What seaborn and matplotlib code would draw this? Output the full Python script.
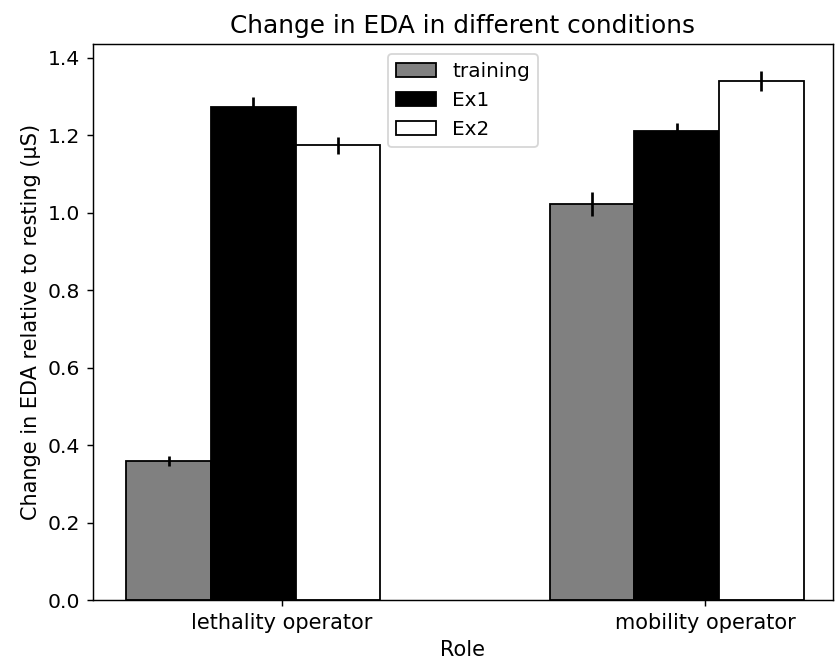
import matplotlib
matplotlib.use("Agg")
import matplotlib.pyplot as plt
import seaborn as sns
import pandas as pd
import numpy as np

roles = ["lethality operator", "mobility operator"]
conditions = ["training", "Ex1", "Ex2"]
training_vals = [0.358, 1.023]
ex1_vals = [1.273, 1.211]
ex2_vals = [1.174, 1.341]
training_err = [0.013, 0.031]
ex1_err = [0.026, 0.022]
ex2_err = [0.023, 0.026]

rows = []
for cond, vals, errs in [("training", training_vals, training_err),
                         ("Ex1", ex1_vals, ex1_err),
                         ("Ex2", ex2_vals, ex2_err)]:
    for r, v, e in zip(roles, vals, errs):
        rows.append({"Role": r, "Condition": cond, "Value": v, "Err": e})
df = pd.DataFrame(rows)

colors = {"training": "grey", "Ex1": "black", "Ex2": "white"}

fig = plt.figure(figsize=(835/130, 664/130), dpi=130)
ax = fig.add_axes([93/835, 64/664, 740/835, 556/664])

sns.barplot(data=df, x="Role", y="Value", hue="Condition", order=roles,
            hue_order=conditions, palette=colors, edgecolor="black",
            linewidth=1, width=0.6, errorbar=None, ax=ax, saturation=1)

# error bars at bar centers
for cont, cond in zip(ax.containers, conditions):
    sub = df[df.Condition == cond].set_index("Role").loc[roles]
    xs = [p.get_x() + p.get_width() / 2 for p in cont.patches]
    hs = [p.get_height() for p in cont.patches]
    ax.errorbar(xs, hs, yerr=sub["Err"].values, fmt="none", ecolor="black",
                elinewidth=1.5, capsize=0)

ax.set_xticks([0.0667, 1.0667])
ax.set_xticklabels(roles, fontsize=11.6)
ax.tick_params(axis="y", labelsize=11.3)
ax.set_xlim(-0.379, 1.369)
ax.set_ylim(0, 1.436)
ax.set_xlabel("Role", fontsize=11.6)
ax.set_ylabel("Change in EDA relative to resting (µS)", fontsize=11.6)
ax.set_title("Change in EDA in different conditions", fontsize=13.7)
ax.legend(loc="upper center", fontsize=11.1)

fig.savefig("out.png", dpi=130)
